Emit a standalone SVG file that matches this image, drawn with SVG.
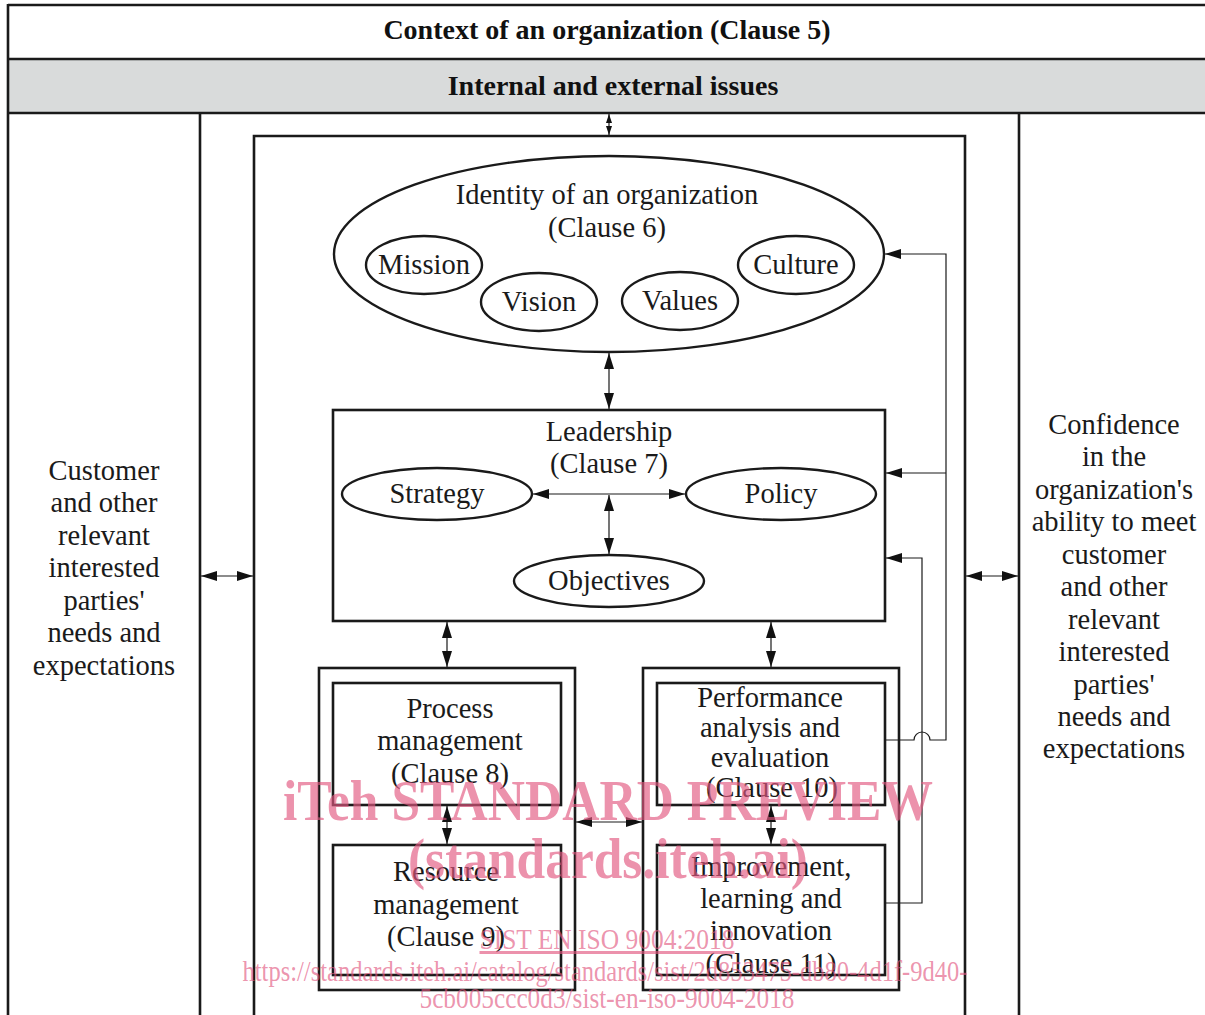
<svg xmlns="http://www.w3.org/2000/svg" width="1205" height="1015" viewBox="0 0 1205 1015">
<style>
.frame{fill:none;stroke:#1a1a1a;stroke-width:2.6}
.box{fill:#fff;stroke:#1a1a1a;stroke-width:2.6}
.ell{fill:#fff;stroke:#1a1a1a;stroke-width:2.4}
.con{fill:none;stroke:#1a1a1a;stroke-width:1.2}
.t{font-family:"Liberation Serif","DejaVu Serif",serif;font-size:28.5px;fill:#1a1a1a;text-anchor:middle}
.h{font-family:"Liberation Serif","DejaVu Serif",serif;font-size:28px;font-weight:bold;fill:#111;text-anchor:middle}
.wm{font-family:"Liberation Serif","DejaVu Serif",serif;fill:#e2577f;fill-opacity:0.65;text-anchor:middle}
</style>
<defs>
<marker id="ah" markerUnits="userSpaceOnUse" markerWidth="16" markerHeight="10" refX="16" refY="5" orient="auto-start-reverse"><path d="M0,0 L16,5 L0,10 z" fill="#111"/></marker>
<marker id="ahs" markerUnits="userSpaceOnUse" markerWidth="9" markerHeight="6" refX="9" refY="3" orient="auto-start-reverse"><path d="M0,0 L9,3 L0,6 z" fill="#111"/></marker>
</defs>

<g id="frame">
<rect x="8" y="60" width="1197" height="53" fill="#d9dbdb"/>
<line class="frame" x1="8" y1="5" x2="1205" y2="5"/>
<line class="frame" x1="8" y1="59" x2="1205" y2="59"/>
<line class="frame" x1="8" y1="113" x2="1205" y2="113"/>
<line class="frame" x1="8" y1="4" x2="8" y2="1015"/>
<line class="frame" x1="200" y1="113" x2="200" y2="1015"/>
<line class="frame" x1="1019" y1="113" x2="1019" y2="1015"/>
<path class="frame" d="M254,1015 V136 H965 V1015"/>
</g>

<g id="context-title"><text class="h" x="607" y="39">Context of an organization (Clause 5)</text></g>
<g id="issues"><text class="h" x="613" y="95">Internal and external issues</text></g>

<g id="customer-needs">
<text class="t" x="104" y="480">Customer</text>
<text class="t" x="104" y="512">and other</text>
<text class="t" x="104" y="545">relevant</text>
<text class="t" x="104" y="577">interested</text>
<text class="t" x="104" y="610">parties'</text>
<text class="t" x="104" y="642">needs and</text>
<text class="t" x="104" y="675">expectations</text>
</g>

<g id="confidence">
<text class="t" x="1114" y="434">Confidence</text>
<text class="t" x="1114" y="466">in the</text>
<text class="t" x="1114" y="499">organization's</text>
<text class="t" x="1114" y="531">ability to meet</text>
<text class="t" x="1114" y="564">customer</text>
<text class="t" x="1114" y="596">and other</text>
<text class="t" x="1114" y="629">relevant</text>
<text class="t" x="1114" y="661">interested</text>
<text class="t" x="1114" y="694">parties'</text>
<text class="t" x="1114" y="726">needs and</text>
<text class="t" x="1114" y="758">expectations</text>
</g>

<g id="identity">
<ellipse class="ell" cx="609" cy="254" rx="275" ry="98"/>
<text class="t" x="607" y="204">Identity of an organization</text>
<text class="t" x="607" y="237">(Clause 6)</text>
</g>
<g id="mission"><ellipse class="ell" cx="424" cy="265" rx="58" ry="29"/><text class="t" x="424" y="274">Mission</text></g>
<g id="vision"><ellipse class="ell" cx="539" cy="302" rx="58" ry="29"/><text class="t" x="539" y="311">Vision</text></g>
<g id="values"><ellipse class="ell" cx="680" cy="301" rx="58" ry="29"/><text class="t" x="680" y="310">Values</text></g>
<g id="culture"><ellipse class="ell" cx="796" cy="265" rx="58" ry="29"/><text class="t" x="796" y="274">Culture</text></g>

<g id="leadership">
<rect class="box" x="333" y="410" width="552" height="211"/>
<text class="t" x="609" y="441">Leadership</text>
<text class="t" x="609" y="473">(Clause 7)</text>
</g>
<g id="strategy"><ellipse class="ell" cx="437" cy="494" rx="95" ry="26"/><text class="t" x="437" y="503">Strategy</text></g>
<g id="policy"><ellipse class="ell" cx="781" cy="494" rx="95" ry="26"/><text class="t" x="781" y="503">Policy</text></g>
<g id="objectives"><ellipse class="ell" cx="609" cy="581" rx="95" ry="26"/><text class="t" x="609" y="590">Objectives</text></g>

<g id="left-block"><rect class="box" x="319" y="668" width="256" height="322"/></g>
<g id="right-block"><rect class="box" x="643" y="668" width="256" height="322"/></g>

<g id="process">
<rect class="box" x="333" y="683" width="228" height="122"/>
<text class="t" x="450" y="718">Process</text>
<text class="t" x="450" y="750">management</text>
<text class="t" x="450" y="783">(Clause 8)</text>
</g>
<g id="resource">
<rect class="box" x="333" y="845" width="228" height="130"/>
<text class="t" x="446" y="881">Resource</text>
<text class="t" x="446" y="914">management</text>
<text class="t" x="446" y="946">(Clause 9)</text>
</g>
<g id="performance">
<rect class="box" x="657" y="683" width="228" height="122"/>
<text class="t" x="770" y="707">Performance</text>
<text class="t" x="770" y="737">analysis and</text>
<text class="t" x="770" y="767">evaluation</text>
<text class="t" x="772" y="797">(Clause 10)</text>
</g>
<g id="improvement">
<rect class="box" x="657" y="845" width="228" height="130"/>
<text class="t" x="771" y="876">Improvement,</text>
<text class="t" x="771" y="908">learning and</text>
<text class="t" x="771" y="940">innovation</text>
<text class="t" x="771" y="973">(Clause 11)</text>
</g>

<g id="connectors">
<line class="con" x1="609" y1="114" x2="609" y2="135" marker-start="url(#ahs)" marker-end="url(#ahs)"/>
<line class="con" x1="201" y1="576" x2="253" y2="576" marker-start="url(#ah)" marker-end="url(#ah)"/>
<line class="con" x1="966" y1="576" x2="1018" y2="576" marker-start="url(#ah)" marker-end="url(#ah)"/>
<line class="con" x1="609" y1="353" x2="609" y2="409" marker-start="url(#ah)" marker-end="url(#ah)"/>
<line class="con" x1="533" y1="494" x2="685" y2="494" marker-start="url(#ah)" marker-end="url(#ah)"/>
<line class="con" x1="609" y1="495" x2="609" y2="554" marker-start="url(#ah)" marker-end="url(#ah)"/>
<line class="con" x1="447" y1="622" x2="447" y2="667" marker-start="url(#ah)" marker-end="url(#ah)"/>
<line class="con" x1="771" y1="622" x2="771" y2="667" marker-start="url(#ah)" marker-end="url(#ah)"/>
<line class="con" x1="447" y1="806" x2="447" y2="844" marker-start="url(#ah)" marker-end="url(#ah)"/>
<line class="con" x1="771" y1="806" x2="771" y2="844" marker-start="url(#ah)" marker-end="url(#ah)"/>
<line class="con" x1="576" y1="822" x2="642" y2="822" marker-start="url(#ah)" marker-end="url(#ah)"/>
<path class="con" d="M886,740 H914 A8,8 0 0 1 930,740 H946 V254 H885" marker-end="url(#ah)"/>
<path class="con" d="M946,473 H886" marker-end="url(#ah)"/>
<path class="con" d="M886,903 H922 V558 H886" marker-end="url(#ah)"/>
</g>

<g id="watermark">
<text class="wm" x="608" y="820" font-size="56" font-weight="bold" textLength="650" lengthAdjust="spacingAndGlyphs">iTeh STANDARD PREVIEW</text>
<text class="wm" x="608" y="878" font-size="56" font-weight="bold" textLength="400" lengthAdjust="spacingAndGlyphs">(standards.iteh.ai)</text>
<text class="wm" x="607" y="949" font-size="30" text-decoration="underline" textLength="255" lengthAdjust="spacingAndGlyphs">SIST EN ISO 9004:2018</text>
<text class="wm" x="605" y="981" font-size="30" textLength="725" lengthAdjust="spacingAndGlyphs">https://standards.iteh.ai/catalog/standards/sist/2d853475-db80-4d1f-9d40-</text>
<text class="wm" x="607" y="1008" font-size="29" textLength="375" lengthAdjust="spacingAndGlyphs">5cb005ccc0d3/sist-en-iso-9004-2018</text>
</g>
</svg>
